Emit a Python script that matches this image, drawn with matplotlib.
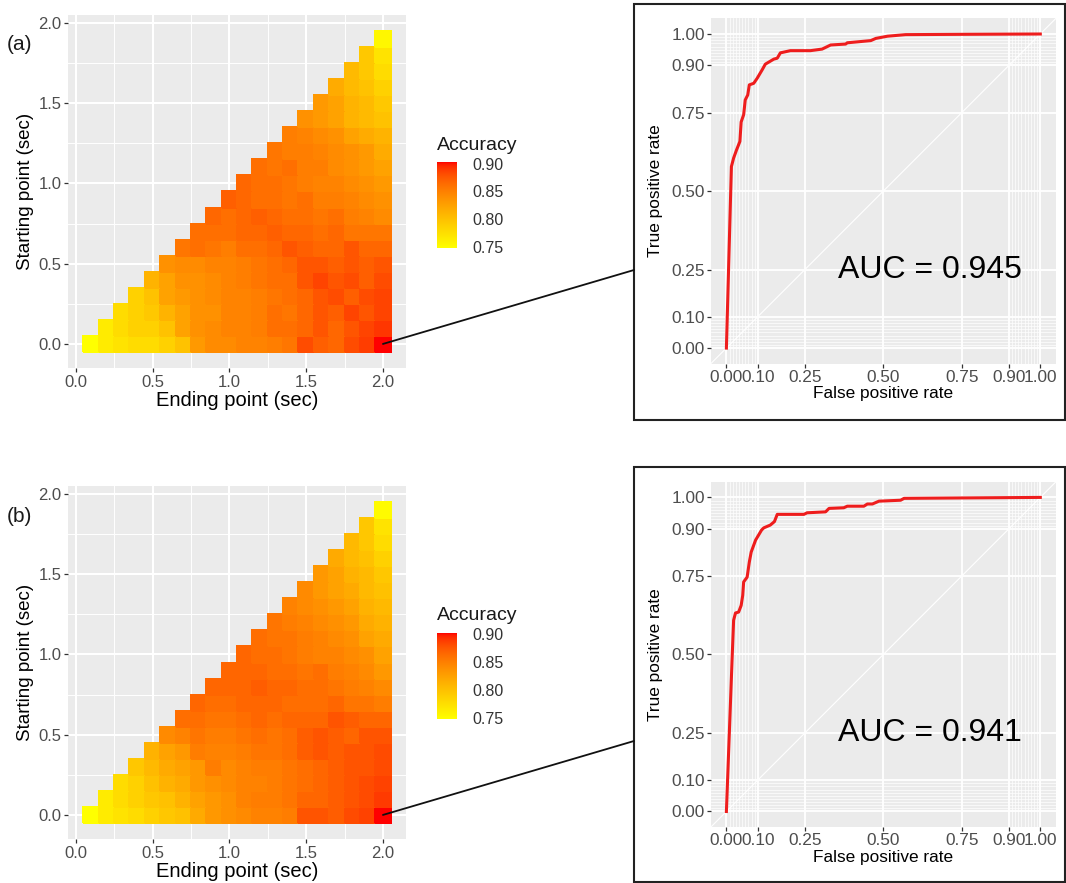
import numpy as np
import matplotlib
matplotlib.use("Agg")
import matplotlib.pyplot as plt
from matplotlib.colors import ListedColormap, Normalize
from matplotlib.patches import Rectangle, ConnectionPatch

plt.rcParams['font.family'] = ['Liberation Sans', 'DejaVu Sans']

# ---------------- data ----------------
start_times = [0.0, 0.1, 0.2, 0.3, 0.4, 0.5, 0.6, 0.7, 0.8, 0.9,
               1.0, 1.1, 1.2, 1.3, 1.4, 1.5, 1.6, 1.7, 1.8, 1.9]
end_times = [0.1, 0.2, 0.3, 0.4, 0.5, 0.6, 0.7, 0.8, 0.9, 1.0,
             1.1, 1.2, 1.3, 1.4, 1.5, 1.6, 1.7, 1.8, 1.9, 2.0]

# accuracy rows: one row per starting point, values for ending points > start
acc_a = [
    [0.748, 0.765, 0.772, 0.778, 0.778, 0.787, 0.800, 0.832, 0.843, 0.843, 0.848, 0.848, 0.852, 0.857, 0.882, 0.872, 0.867, 0.882, 0.889, 0.903],
    [0.765, 0.778, 0.787, 0.787, 0.800, 0.825, 0.838, 0.843, 0.848, 0.848, 0.852, 0.862, 0.862, 0.867, 0.877, 0.867, 0.877, 0.886, 0.892],
    [0.778, 0.787, 0.795, 0.812, 0.825, 0.838, 0.838, 0.848, 0.848, 0.852, 0.862, 0.857, 0.867, 0.877, 0.872, 0.886, 0.877, 0.886],
    [0.787, 0.800, 0.825, 0.832, 0.838, 0.843, 0.848, 0.848, 0.852, 0.857, 0.862, 0.867, 0.877, 0.882, 0.872, 0.882, 0.886],
    [0.812, 0.825, 0.838, 0.838, 0.843, 0.848, 0.852, 0.857, 0.862, 0.862, 0.877, 0.886, 0.877, 0.882, 0.872, 0.882],
    [0.838, 0.843, 0.843, 0.848, 0.848, 0.852, 0.857, 0.862, 0.867, 0.877, 0.877, 0.872, 0.877, 0.872, 0.877],
    [0.857, 0.862, 0.857, 0.852, 0.862, 0.862, 0.867, 0.877, 0.872, 0.867, 0.867, 0.877, 0.867, 0.867],
    [0.862, 0.862, 0.862, 0.867, 0.867, 0.872, 0.867, 0.867, 0.862, 0.867, 0.857, 0.857, 0.857],
    [0.867, 0.862, 0.867, 0.872, 0.867, 0.862, 0.862, 0.857, 0.862, 0.852, 0.848, 0.843],
    [0.872, 0.867, 0.862, 0.862, 0.857, 0.862, 0.852, 0.852, 0.848, 0.843, 0.838],
    [0.867, 0.862, 0.862, 0.857, 0.852, 0.848, 0.848, 0.843, 0.838, 0.832],
    [0.862, 0.857, 0.862, 0.852, 0.852, 0.843, 0.838, 0.832, 0.825],
    [0.857, 0.852, 0.852, 0.848, 0.843, 0.838, 0.832, 0.818],
    [0.852, 0.848, 0.843, 0.838, 0.825, 0.818, 0.812],
    [0.838, 0.832, 0.825, 0.812, 0.806, 0.800],
    [0.832, 0.825, 0.812, 0.806, 0.795],
    [0.818, 0.806, 0.800, 0.787],
    [0.806, 0.795, 0.778],
    [0.795, 0.772],
    [0.755],
]

acc_b = [
    [0.748, 0.765, 0.772, 0.778, 0.787, 0.795, 0.800, 0.818, 0.832, 0.838, 0.843, 0.848, 0.848, 0.852, 0.877, 0.877, 0.872, 0.882, 0.886, 0.902],
    [0.765, 0.778, 0.787, 0.795, 0.800, 0.812, 0.825, 0.832, 0.838, 0.848, 0.852, 0.852, 0.857, 0.867, 0.867, 0.872, 0.877, 0.882, 0.889],
    [0.778, 0.787, 0.800, 0.812, 0.818, 0.832, 0.838, 0.843, 0.848, 0.848, 0.852, 0.857, 0.862, 0.867, 0.872, 0.877, 0.882, 0.886],
    [0.795, 0.806, 0.818, 0.825, 0.832, 0.852, 0.843, 0.848, 0.852, 0.852, 0.857, 0.862, 0.867, 0.872, 0.877, 0.877, 0.882],
    [0.812, 0.825, 0.832, 0.852, 0.848, 0.848, 0.852, 0.857, 0.857, 0.862, 0.872, 0.877, 0.872, 0.877, 0.877, 0.882],
    [0.843, 0.848, 0.857, 0.852, 0.852, 0.857, 0.862, 0.857, 0.862, 0.872, 0.877, 0.872, 0.867, 0.877, 0.877],
    [0.862, 0.862, 0.857, 0.857, 0.862, 0.867, 0.862, 0.867, 0.867, 0.867, 0.877, 0.872, 0.867, 0.867],
    [0.867, 0.862, 0.862, 0.867, 0.867, 0.867, 0.862, 0.862, 0.862, 0.867, 0.857, 0.857, 0.852],
    [0.867, 0.867, 0.867, 0.872, 0.867, 0.867, 0.862, 0.862, 0.857, 0.852, 0.848, 0.843],
    [0.867, 0.867, 0.867, 0.862, 0.862, 0.857, 0.862, 0.852, 0.848, 0.843, 0.832],
    [0.867, 0.862, 0.862, 0.857, 0.852, 0.848, 0.848, 0.843, 0.838, 0.825],
    [0.862, 0.857, 0.857, 0.852, 0.848, 0.843, 0.838, 0.825, 0.818],
    [0.857, 0.852, 0.848, 0.843, 0.838, 0.832, 0.818, 0.812],
    [0.848, 0.843, 0.838, 0.832, 0.825, 0.812, 0.806],
    [0.843, 0.832, 0.825, 0.818, 0.806, 0.800],
    [0.832, 0.825, 0.812, 0.806, 0.795],
    [0.818, 0.806, 0.800, 0.787],
    [0.806, 0.795, 0.778],
    [0.795, 0.772],
    [0.752],
]

legend_ticks = [0.75, 0.80, 0.85, 0.90]
legend_labels = ["0.75", "0.80", "0.85", "0.90"]

fpr_a = [0.0, 0.013, 0.016, 0.023, 0.032, 0.043, 0.047, 0.055, 0.060, 0.068, 0.073, 0.087,
         0.098, 0.114, 0.124, 0.151, 0.162, 0.172, 0.204, 0.268, 0.305, 0.332, 0.380,
         0.385, 0.460, 0.476, 0.513, 0.571, 0.757, 1.0]
tpr_a = [0.0, 0.472, 0.578, 0.605, 0.630, 0.658, 0.720, 0.743, 0.790, 0.806, 0.838, 0.843,
         0.859, 0.886, 0.904, 0.920, 0.923, 0.940, 0.947, 0.947, 0.952, 0.965, 0.968,
         0.972, 0.979, 0.986, 0.993, 0.998, 0.999, 1.0]

fpr_b = [0.0, 0.018, 0.023, 0.029, 0.039, 0.047, 0.052, 0.055, 0.066, 0.073, 0.079, 0.093,
         0.112, 0.119, 0.140, 0.153, 0.162, 0.247, 0.257, 0.316, 0.327, 0.374, 0.385,
         0.438, 0.449, 0.465, 0.486, 0.555, 0.566, 1.0]
tpr_b = [0.0, 0.481, 0.609, 0.632, 0.635, 0.656, 0.688, 0.731, 0.746, 0.794, 0.826, 0.864,
         0.896, 0.903, 0.912, 0.923, 0.946, 0.946, 0.951, 0.954, 0.965, 0.967, 0.972,
         0.972, 0.979, 0.979, 0.988, 0.991, 0.997, 1.0]

auc_a = 0.945
auc_b = 0.941

roc_ticks = [0.0, 0.10, 0.25, 0.50, 0.75, 0.90, 1.0]
roc_ticklabels = ["0.00", "0.10", "0.25", "0.50", "0.75", "0.90", "1.00"]
heat_ticks = [0.0, 0.5, 1.0, 1.5, 2.0]
heat_ticklabels = ["0.0", "0.5", "1.0", "1.5", "2.0"]


# ---------------- colour ramp (Lab interpolation, yellow -> red) ----------------
def lab_ramp(c0, c1, n=256):
    M = np.array([[0.4124564, 0.3575761, 0.1804375],
                  [0.2126729, 0.7151522, 0.0721750],
                  [0.0193339, 0.1191920, 0.9503041]])
    Minv = np.linalg.inv(M)
    wp = np.array([0.95047, 1.0, 1.08883])
    d = 6 / 29

    def to_lin(c):
        c = np.asarray(c, float)
        return np.where(c <= 0.04045, c / 12.92, ((c + 0.055) / 1.055) ** 2.4)

    def from_lin(c):
        c = np.clip(c, 0, 1)
        return np.where(c <= 0.0031308, 12.92 * c, 1.055 * c ** (1 / 2.4) - 0.055)

    def f(t):
        return np.where(t > d ** 3, np.cbrt(t), t / (3 * d * d) + 4 / 29)

    def finv(t):
        return np.where(t > d, t ** 3, 3 * d * d * (t - 4 / 29))

    def to_lab(rgb):
        xyz = M @ to_lin(rgb) / wp
        fx, fy, fz = f(xyz)
        return np.array([116 * fy - 16, 500 * (fx - fy), 200 * (fy - fz)])

    def to_rgb(lab):
        L, a, b = lab
        fy = (L + 16) / 116
        fx = fy + a / 500
        fz = fy - b / 200
        xyz = np.array([finv(fx), finv(fy), finv(fz)]) * wp
        return np.clip(from_lin(Minv @ xyz), 0, 1)

    l0, l1 = to_lab(c0), to_lab(c1)
    return ListedColormap([to_rgb(l0 + (l1 - l0) * t) for t in np.linspace(0, 1, n)])


cmap = lab_ramp([1, 1, 0], [1, 0, 0])

W, H = 1066, 883
fig = plt.figure(figsize=(W / 100, H / 100), dpi=100)
fig.patch.set_facecolor('white')


def px_axes(l, t, r, b):
    return fig.add_axes([l / W, 1 - b / H, (r - l) / W, (b - t) / H])


TICK_COL = '#4D4D4D'
GRID_BG = '#EBEBEB'


def draw_heat(ax, rows):
    Z = np.full((len(start_times), len(end_times)), np.nan)
    for s, row in enumerate(rows):
        for k, v in enumerate(row):
            Z[s, s + k] = v
    Zm = np.ma.masked_invalid(Z)
    et = np.array(end_times)
    st = np.array(start_times)
    xe = np.append(et - 0.05, et[-1] + 0.05)
    ye = np.append(st - 0.05, st[-1] + 0.05)
    vals = [v for r in rows for v in r]
    norm = Normalize(vmin=min(vals), vmax=max(vals))
    ax.pcolormesh(xe, ye, Zm, cmap=cmap, norm=norm, shading='flat',
                  edgecolors='face', linewidth=0.3, zorder=2)
    ax.set_facecolor(GRID_BG)
    ax.set_xlim(-0.05, 2.15)
    ax.set_ylim(-0.15, 2.05)
    ax.set_xticks(heat_ticks)
    ax.set_xticklabels(heat_ticklabels)
    ax.set_yticks(heat_ticks)
    ax.set_yticklabels(heat_ticklabels)
    ax.set_xticks([0.25, 0.75, 1.25, 1.75], minor=True)
    ax.set_yticks([0.25, 0.75, 1.25, 1.75], minor=True)
    ax.grid(True, which='major', color='white', lw=1.5, zorder=0)
    ax.grid(True, which='minor', color='white', lw=0.7, zorder=0)
    ax.set_axisbelow(True)
    for sp in ax.spines.values():
        sp.set_visible(False)
    ax.tick_params(which='major', length=2.8, width=0.9, color='#333333',
                   labelcolor=TICK_COL, labelsize=12, pad=2)
    ax.tick_params(which='minor', length=0)
    ax.set_xlabel('Ending point (sec)', fontsize=14.5, labelpad=1)
    ax.set_ylabel('Starting point (sec)', fontsize=13.5, labelpad=3)
    return norm


def draw_cbar(l, t, r, b, norm):
    ax = px_axes(l, t, r, b)
    grad = np.linspace(norm.vmin, norm.vmax, 256)[:, None]
    ax.imshow(grad, aspect='auto', cmap=cmap, norm=norm, origin='lower',
              extent=[0, 1, norm.vmin, norm.vmax])
    ax.set_ylim(norm.vmin, norm.vmax)
    ax.set_xlim(0, 1)
    ax.set_xticks([])
    ax.set_yticks(legend_ticks)
    ax.set_yticklabels(legend_labels)
    ax.tick_params(axis='y', left=False, right=False, labelleft=False, labelright=True,
                   length=0, labelsize=11.5, labelcolor='#333333', pad=11)
    for sp in ax.spines.values():
        sp.set_visible(False)
    fig.text(l / W, 1 - (t - 17) / H, 'Accuracy', fontsize=14, ha='left', va='center',
             color='#1a1a1a')


def draw_roc(ax, fpr, tpr, auc):
    ax.set_facecolor(GRID_BG)
    ax.set_xlim(-0.05, 1.05)
    ax.set_ylim(-0.05, 1.05)
    ax.set_xticks(roc_ticks)
    ax.set_xticklabels(roc_ticklabels)
    ax.set_yticks(roc_ticks)
    ax.set_yticklabels(roc_ticklabels)
    minor = list(np.arange(0.01, 0.095, 0.01)) + list(np.arange(0.91, 0.995, 0.01))
    ax.set_xticks(minor, minor=True)
    ax.set_yticks(minor, minor=True)
    ax.grid(True, which='major', color='white', lw=1.3, zorder=0)
    ax.grid(True, which='minor', color='white', lw=0.5, zorder=0)
    ax.set_axisbelow(True)
    ax.axline((0, 0), (1, 1), color='white', lw=0.8, zorder=1)
    ax.plot(fpr, tpr, color='#EE1D1D', lw=2.2, zorder=3, solid_joinstyle='round')
    ax.text(0.65, 0.25, f'AUC = {auc:.3f}', fontsize=23, ha='center', va='center',
            color='black', zorder=4)
    for sp in ax.spines.values():
        sp.set_visible(False)
    ax.tick_params(which='major', length=2.8, width=0.9, color='#333333',
                   labelcolor=TICK_COL, labelsize=12.4, pad=1.5)
    ax.tick_params(which='minor', length=0)
    ax.set_xlabel('False positive rate', fontsize=12.4, labelpad=1)
    ax.set_ylabel('True positive rate', fontsize=12.4, labelpad=6)


for off, rows, fpr, tpr, auc, tag in [(0, acc_a, fpr_a, tpr_a, auc_a, '(a)'),
                                      (471, acc_b, fpr_b, tpr_b, auc_b, '(b)')]:
    ax_h = px_axes(68, 15 + off, 406, 368 + off)
    norm = draw_heat(ax_h, rows)
    draw_cbar(437, 162 + off, 457, 248 + off, norm)
    fig.text(7 / W, 1 - (45 + off) / H, tag, fontsize=15, ha='left', va='center',
             color='#1a1a1a')

    roc_top = 18.3 + off * (463.4 / 471)
    ax_r = px_axes(710.7, roc_top, 1056, roc_top + 345.5)
    draw_roc(ax_r, fpr, tpr, auc)

    box_top = 4 + off * (463 / 471)
    box_bot = 420 + off * (461.7 / 471)
    fig.add_artist(Rectangle((634 / W, 1 - box_bot / H), (1065 - 634) / W,
                             (box_bot - box_top) / H, transform=fig.transFigure,
                             fill=False, ec='#222222', lw=1.5))
    con = ConnectionPatch(xyA=(end_times[-1], start_times[0]), coordsA=ax_h.transData,
                          xyB=(634, H - (270 + off)), coordsB='figure pixels',
                          color='#111111', lw=1.3)
    fig.add_artist(con)

fig.savefig('out.png', dpi=100, facecolor='white')
